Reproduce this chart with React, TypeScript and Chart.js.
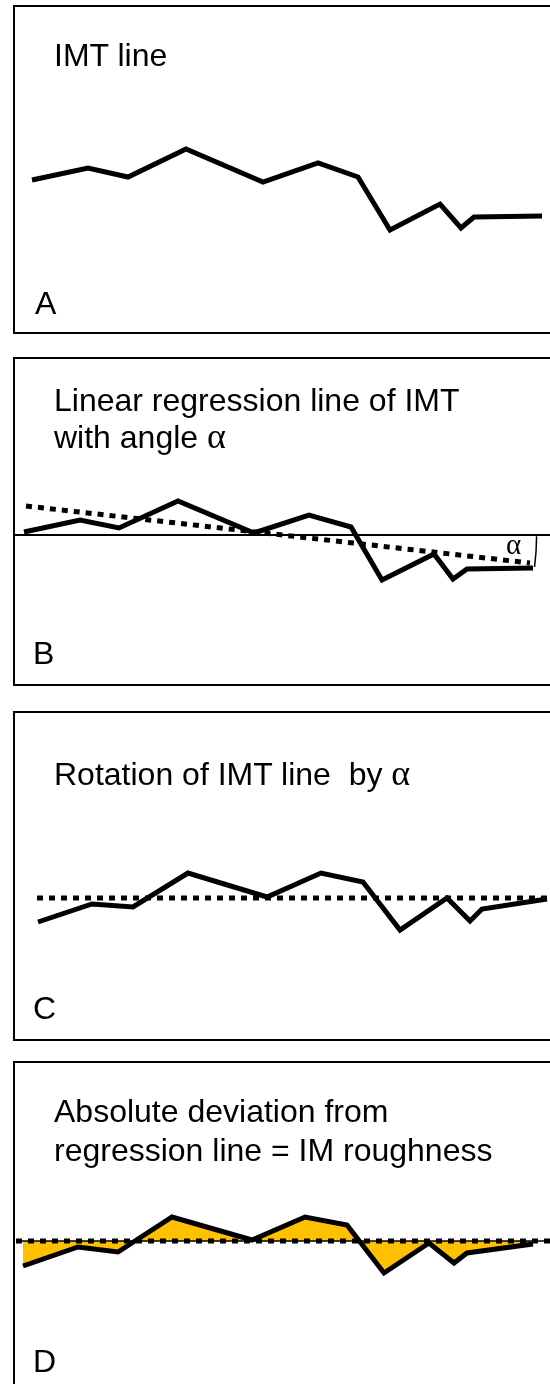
import React, { useEffect, useRef } from "react";
import { Chart, registerables } from "chart.js";
Chart.register(...registerables);

// ---- data (position along vessel, IMT value) ----
const posA = [0.04, 1.16, 1.96, 3.12, 4.66, 5.76, 6.56, 7.2, 8.2, 8.62, 8.88, 10.24];
const imtA = [0.85, 0.97, 0.88, 1.16, 0.83, 1.02, 0.88, 0.35, 0.61, 0.37, 0.48, 0.49];

const posB = [-0.12, 1.0, 1.78, 2.96, 4.48, 5.58, 6.42, 7.04, 8.08, 8.46, 8.74, 10.06];
const imtB = [0.85, 0.97, 0.89, 1.16, 0.84, 1.02, 0.9, 0.37, 0.63, 0.38, 0.48, 0.49];
const regPosB = [-0.08, 10.0];
const regImtB = [1.11, 0.54];
const horizPosB = [-0.34, 10.4];
const horizImtB = 0.82;

const posC = [0.16, 1.24, 2.06, 3.16, 4.74, 5.82, 6.66, 7.4, 8.34, 8.8, 9.04, 10.34];
const imtC = [0.49, 0.67, 0.64, 0.98, 0.74, 0.98, 0.89, 0.41, 0.73, 0.5, 0.62, 0.72];
const rotPosC = [0.14, 10.4];
const rotImtC = 0.73;

const posD = [-0.14, 0.96, 1.76, 2.84, 4.44, 5.5, 6.34, 7.08, 7.98, 8.48, 8.74, 10.06];
const imtD = [0.55, 0.74, 0.69, 1.04, 0.81, 1.04, 0.96, 0.48, 0.78, 0.58, 0.68, 0.77];
const devPosD = [-0.28, 10.4];
const devImtD = 0.8;

const X_MIN = -0.6;
const X_MAX = 10.4;
const Y_MIN = -0.7;
const Y_MAX = 2.6;

const pts = (xs: number[], ys: number[]) => xs.map((x, i) => ({ x, y: ys[i] }));
const flat = (xs: number[], v: number) => xs.map((x) => ({ x, y: v }));

const solid = (data: any) => ({
  data,
  borderColor: "#000",
  borderWidth: 5,
  borderJoinStyle: "miter",
  borderCapStyle: "butt",
  pointRadius: 0,
  fill: false,
  tension: 0,
});
const dotted = (data: any) => ({
  data,
  borderColor: "#000",
  borderWidth: 5,
  borderDash: [6, 6],
  borderCapStyle: "butt",
  pointRadius: 0,
  fill: false,
  tension: 0,
});

const alphaArc = {
  id: "alphaArc",
  afterDatasetsDraw(chart: any) {
    const xs = chart.scales.x;
    const ys = chart.scales.y;
    const t = (horizImtB - regImtB[0]) / (regImtB[1] - regImtB[0]);
    const xi = regPosB[0] + t * (regPosB[1] - regPosB[0]);
    const cx = xs.getPixelForValue(xi);
    const cy = ys.getPixelForValue(horizImtB);
    const ex = xs.getPixelForValue(regPosB[1]);
    const ey = ys.getPixelForValue(regImtB[1]);
    const ang = Math.atan2(ey - cy, ex - cx);
    const r = Math.hypot(ex - cx, ey - cy) + 5;
    const ctx = chart.ctx;
    ctx.save();
    ctx.strokeStyle = "#000";
    ctx.lineWidth = 1.5;
    ctx.beginPath();
    ctx.arc(cx, cy, r, 0.005, ang * 1.12);
    ctx.stroke();
    ctx.restore();
  },
};

function buildConfig(datasets: any[], plugins: any[] = []) {
  return {
    type: "line",
    data: { datasets },
    options: {
      animation: false,
      responsive: false,
      maintainAspectRatio: false,
      layout: { padding: 0 },
      plugins: {
        legend: { display: false },
        tooltip: { enabled: false },
        title: { display: false },
      },
      scales: {
        x: { type: "linear", min: X_MIN, max: X_MAX, display: false },
        y: { type: "linear", min: Y_MIN, max: Y_MAX, display: false },
      },
    },
    plugins,
  } as any;
}

const configA = () => buildConfig([solid(pts(posA, imtA))]);
const configB = () =>
  buildConfig(
    [
      solid(pts(posB, imtB)),
      dotted(pts(regPosB, regImtB)),
      { ...solid(flat(horizPosB, horizImtB)), borderWidth: 2 },
    ],
    [alphaArc]
  );
const configC = () => buildConfig([solid(pts(posC, imtC)), dotted(flat(rotPosC, rotImtC))]);
const configD = () =>
  buildConfig([
    solid(pts(posD, imtD)),
    dotted(flat(devPosD, devImtD)),
    { ...solid(flat(devPosD, devImtD)), borderWidth: 1.5 },
    {
      data: pts(posD, imtD),
      borderWidth: 0,
      borderColor: "rgba(0,0,0,0)",
      backgroundColor: "#FFC000",
      pointRadius: 0,
      tension: 0,
      fill: { value: devImtD },
    },
  ]);

function ChartCanvas({ top, build }: { top: number; build: () => any }) {
  const ref = useRef<HTMLCanvasElement | null>(null);
  useEffect(() => {
    if (!ref.current) return;
    const chart = new Chart(ref.current, build());
    return () => chart.destroy();
  }, []);
  return (
    <canvas
      ref={ref}
      width={550}
      height={330}
      style={{ position: "absolute", left: 0, top, width: 550, height: 330 }}
    />
  );
}

const font = '"Liberation Sans", Arial, Helvetica, sans-serif';
const greek = '"Liberation Serif", "DejaVu Serif", serif';

const textStyle = (left: number, top: number): React.CSSProperties => ({
  position: "absolute",
  left,
  top,
  fontFamily: font,
  fontSize: 32,
  lineHeight: "35px",
  color: "#000",
  whiteSpace: "pre",
});

const box = (top: number, height: number): React.CSSProperties => ({
  position: "absolute",
  left: 13,
  top,
  width: 560,
  height,
  boxSizing: "border-box",
  border: "2px solid #000",
  pointerEvents: "none",
});

export default function App() {
  return (
    <div
      style={{
        position: "absolute",
        left: 0,
        top: 0,
        width: 550,
        height: 1384,
        overflow: "hidden",
        background: "#fff",
      }}
    >
      <ChartCanvas top={5} build={configA} />
      <ChartCanvas top={357} build={configB} />
      <ChartCanvas top={711} build={configC} />
      <ChartCanvas top={1061} build={configD} />

      <div style={box(5, 329)} />
      <div style={box(357, 329)} />
      <div style={box(711, 330)} />
      <div style={box(1061, 400)} />

      <div style={textStyle(54, 38)}>IMT line</div>
      <div style={textStyle(35, 286)}>A</div>

      <div style={textStyle(54, 383)}>Linear regression line of IMT</div>
      <div style={textStyle(54, 419)}>
        {"with angle "}
        <span style={{ fontFamily: greek, fontSize: 36 }}>α</span>
      </div>
      <div
        style={{
          position: "absolute",
          left: 506,
          top: 528,
          fontFamily: greek,
          fontSize: 29,
          lineHeight: "32px",
          color: "#000",
        }}
      >
        α
      </div>
      <div style={textStyle(33, 636)}>B</div>

      <div style={textStyle(54, 756)}>
        {"Rotation of IMT line  by "}
        <span style={{ fontFamily: greek, fontSize: 36 }}>α</span>
      </div>
      <div style={textStyle(33, 991)}>C</div>

      <div style={textStyle(54, 1094)}>Absolute deviation from</div>
      <div style={textStyle(54, 1133)}>regression line = IM roughness</div>
      <div style={textStyle(33, 1344)}>D</div>
    </div>
  );
}
